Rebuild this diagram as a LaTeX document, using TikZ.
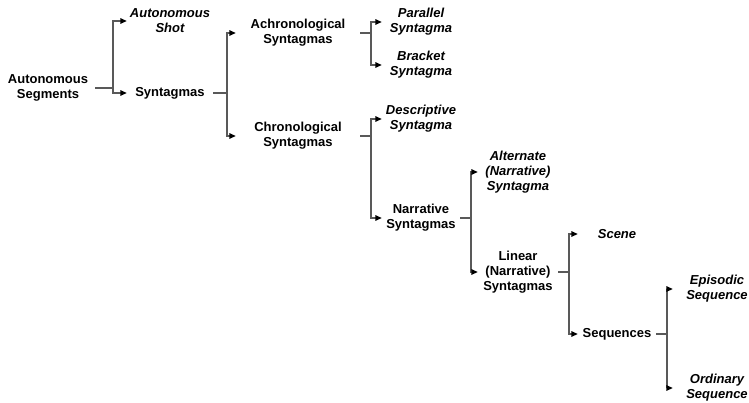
\documentclass[tikz,border=0pt]{standalone}
\usepackage{fontspec}
\setmainfont{Liberation Sans}
\usetikzlibrary{arrows.meta, positioning}

\begin{document}
\begin{tikzpicture}[x=1pt, y=-1pt]
  \tikzset{
    tnode/.style={align=center, inner sep=0pt,
                  font=\fontsize{13}{15}\selectfont\bfseries},
    inode/.style={tnode, font=\fontsize{13}{15}\selectfont\bfseries\itshape},
    line/.style={draw=black!65, line width=1.4pt},
    arr/.style={line, -{Triangle[length=6.5pt, width=5.5pt, color=black]}}
  }
  \useasboundingbox (0,0) rectangle (749,402);
  \node[tnode, minimum width=94pt] (seg)    at (48,88)   {Autonomous\\Segments};
  \node[inode, minimum width=86pt] (shot)   at (170,21)  {Autonomous\\Shot};
  \node[tnode, minimum width=86pt] (syn)    at (170,93)  {Syntagmas};
  \node[tnode, minimum width=124pt] (achron) at (298,33) {Achronological\\Syntagmas};
  \node[tnode, minimum width=124pt] (chron)  at (298,136) {Chronological\\Syntagmas};
  \node[inode, minimum width=78pt] (par)    at (421,22)  {Parallel\\Syntagma};
  \node[inode, minimum width=78pt] (brk)    at (421,65)  {Bracket\\Syntagma};
  \node[inode, minimum width=78pt] (desc)   at (421,119) {Descriptive\\Syntagma};
  \node[tnode, minimum width=78pt] (narr)   at (421,218) {Narrative\\Syntagmas};
  \node[inode, minimum width=80pt] (alt)    at (518,172) {Alternate\\(Narrative)\\Syntagma};
  \node[tnode, minimum width=80pt] (lin)    at (518,272) {Linear\\(Narrative)\\Syntagmas};
  \node[inode, minimum width=78pt] (scene)  at (617,234) {Scene};
  \node[tnode, minimum width=78pt] (seq)    at (617,334) {Sequences};
  \node[inode, minimum width=88pt] (epi)    at (717,289) {Episodic\\Sequence};
  \node[inode, minimum width=88pt] (ord)    at (717,388) {Ordinary\\Sequence};
  % bracket junctions
  \coordinate (j1) at (113,88);
  \coordinate (j2) at (227,93);
  \coordinate (j3) at (371,33);
  \coordinate (j4) at (371,136);
  \coordinate (j5) at (471,218);
  \coordinate (j6) at (569,272);
  \coordinate (j7) at (667,334);
  \foreach \p/\j/\a/\b in {seg/j1/shot/syn, syn/j2/achron/chron,
                           achron/j3/par/brk, chron/j4/desc/narr,
                           narr/j5/alt/lin, lin/j6/scene/seq, seq/j7/epi/ord}
  {
    \draw[line] (\p) -- (\j);
    \draw[arr] (\j) |- (\a);
    \draw[arr] (\j) |- (\b);
  }
\end{tikzpicture}
\end{document}
